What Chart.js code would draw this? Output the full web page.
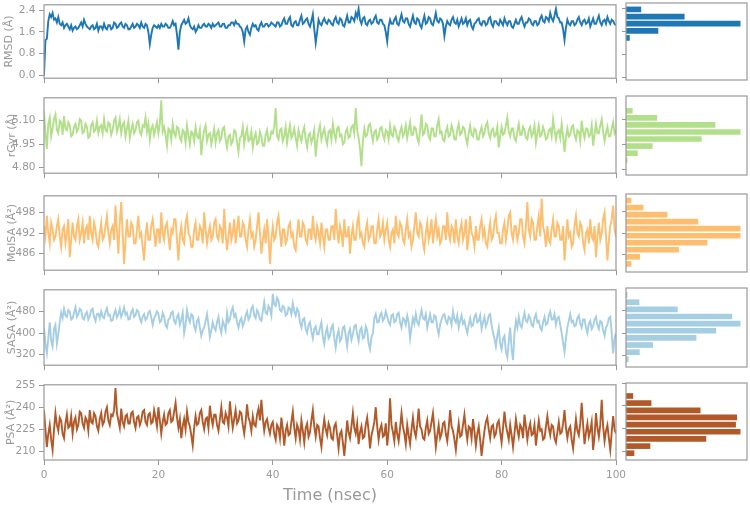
<!DOCTYPE html>
<html>
<head>
<meta charset="utf-8">
<script src="https://cdn.jsdelivr.net/npm/chart.js@4.4.1/dist/chart.umd.min.js"></script>
<style>
  html, body { margin: 0; padding: 0; background: #fff; }
  #page { position: relative; width: 750px; height: 506px; overflow: hidden; }
  #page canvas { position: absolute; }
</style>
</head>
<body>
<div id="page"></div>
<script>
// one frame every 0.25 nsec, 0..100 nsec
const timeStep = 0.25;

const rmsd = [
  0.0, 1.3, 1.35, 2.0, 2.25, 2.15, 2.3, 2.05, 2.1, 1.95, 2.15, 1.9, 1.85, 1.95, 1.75, 1.85, 1.9, 1.8, 1.7, 1.85, 1.65, 1.75, 1.8, 1.7, 1.75, 1.85, 1.95, 1.8, 2.05, 1.9, 1.8, 1.75, 1.7, 1.8, 1.85, 1.7, 1.75, 1.9, 1.65, 1.8,
  1.8, 1.7, 1.9, 1.75, 1.7, 1.85, 1.85, 1.7, 1.75, 1.95, 1.9, 1.75, 1.8, 1.9, 1.95, 1.8, 1.75, 1.9, 1.85, 1.7, 1.7, 1.8, 1.9, 1.75, 1.8, 1.9, 1.85, 1.75, 1.95, 1.8, 1.75, 1.9, 1.85, 1.6, 1.15, 1.5, 1.75, 1.85, 1.8, 1.75,
  1.85, 1.75, 1.9, 1.8, 1.8, 1.9, 1.85, 1.75, 1.75, 1.85, 2.0, 1.85, 1.9, 1.5, 0.95, 1.6, 1.85, 1.95, 2.05, 1.9, 1.95, 2.1, 1.85, 1.75, 1.7, 1.8, 1.6, 1.7, 1.85, 1.75, 1.75, 1.85, 1.9, 1.8, 1.8, 1.9, 1.85, 1.75, 1.9, 1.8,
  1.85, 1.9, 1.95, 1.8, 1.8, 1.9, 1.9, 1.75, 1.75, 1.85, 1.85, 1.95, 1.95, 1.85, 2.0, 1.9, 1.9, 1.8, 1.75, 1.6, 1.25, 1.7, 1.8, 1.6, 1.5, 1.75, 1.9, 1.8, 1.85, 1.7, 1.65, 1.85, 1.95, 1.8, 1.8, 1.9, 1.9, 1.8, 1.85, 1.95,
  1.9, 1.85, 1.8, 1.95, 1.95, 1.8, 1.85, 2.0, 2.1, 1.9, 1.9, 2.05, 2.15, 1.85, 1.8, 1.95, 2.0, 1.85, 1.85, 2.05, 2.2, 1.9, 1.95, 2.05, 2.1, 1.9, 1.8, 2.0, 2.25, 1.7, 1.2, 1.6, 2.05, 1.9, 1.85, 2.0, 2.1, 1.95, 1.9, 2.05,
  2.0, 1.9, 1.85, 2.05, 2.15, 1.95, 1.9, 2.1, 2.05, 1.85, 1.8, 2.0, 2.2, 1.95, 1.95, 2.15, 2.1, 2.0, 2.3, 2.15, 2.45, 2.05, 1.9, 2.1, 2.15, 1.9, 1.85, 2.0, 2.05, 1.9, 1.95, 2.1, 2.2, 1.95, 1.9, 2.05, 2.05, 1.9, 1.85, 1.6,
  1.25, 1.8, 2.05, 1.9, 1.9, 2.05, 2.15, 1.9, 1.85, 2.05, 2.25, 2.0, 1.95, 2.1, 2.1, 1.9, 1.8, 2.0, 2.2, 1.95, 1.9, 2.1, 2.05, 1.85, 1.75, 2.0, 2.2, 1.9, 1.95, 2.15, 2.1, 1.9, 1.85, 2.05, 2.3, 2.0, 1.95, 2.1, 2.05, 1.9,
  1.45, 1.8, 2.0, 1.9, 1.85, 2.05, 2.15, 1.95, 1.9, 2.05, 1.8, 1.95, 2.1, 1.9, 1.95, 2.1, 1.85, 2.0, 2.05, 1.8, 1.7, 1.9, 1.95, 2.05, 2.1, 1.9, 1.85, 2.0, 2.0, 1.85, 1.9, 2.1, 2.15, 1.9, 1.8, 2.0, 2.0, 1.9, 1.85, 2.05,
  1.95, 1.85, 2.1, 1.95, 1.85, 2.0, 2.0, 1.8, 1.75, 1.9, 2.05, 1.9, 1.9, 2.05, 2.15, 1.95, 1.8, 1.95, 1.95, 2.1, 2.05, 1.9, 1.85, 2.0, 2.0, 1.85, 1.9, 2.1, 2.2, 2.0, 1.95, 2.15, 2.1, 2.0, 2.3, 2.1, 2.0, 2.2, 2.45, 2.15,
  2.1, 1.95, 1.95, 1.7, 1.3, 1.75, 2.05, 1.9, 1.85, 2.0, 2.0, 1.85, 1.9, 2.05, 2.15, 1.95, 1.85, 2.0, 2.05, 1.9, 1.95, 2.1, 1.8, 1.95, 2.1, 1.9, 1.9, 2.05, 2.2, 1.95, 1.85, 2.0, 2.05, 1.9, 2.15, 2.0, 1.9, 2.05, 2.0, 1.9,
  1.85
];

const rgyr = [
  5.16, 5.02, 4.92, 5.08, 5.12, 5.00, 5.05, 5.11, 5.14, 5.04, 5.02, 5.10, 5.09, 5.01, 5.13, 5.05, 5.04, 5.09, 5.07, 5.00, 5.01, 5.06, 5.08, 5.03, 5.05, 5.11, 5.10, 5.02, 5.03, 5.08, 5.06, 4.99, 5.00, 5.07, 5.09, 5.03, 5.04, 5.10, 5.02, 5.06,
  5.07, 5.02, 5.11, 5.04, 5.03, 5.09, 5.08, 5.01, 5.04, 5.10, 5.12, 5.03, 5.06, 5.11, 5.02, 5.07, 5.09, 5.00, 5.05, 5.10, 4.99, 5.04, 5.08, 5.02, 5.04, 5.09, 5.10, 5.03, 5.01, 5.07, 5.06, 5.12, 5.03, 5.08, 4.98, 5.05, 5.07, 5.01, 5.05, 5.09,
  5.02, 5.08, 5.23, 5.03, 5.06, 5.01, 4.94, 5.05, 5.04, 4.98, 5.08, 5.02, 5.00, 5.06, 5.05, 4.99, 4.97, 5.04, 5.03, 4.96, 5.07, 5.01, 4.95, 5.03, 5.02, 4.97, 5.06, 5.00, 4.99, 5.04, 4.88, 4.98, 5.04, 5.07, 4.97, 5.01, 5.02, 4.95, 5.00, 5.05,
  4.96, 5.02, 5.04, 4.97, 4.99, 5.05, 5.06, 4.98, 4.93, 5.00, 5.01, 4.95, 4.97, 5.04, 5.03, 4.96, 4.90, 4.99, 5.00, 5.06, 4.95, 5.01, 5.05, 4.97, 4.98, 5.03, 4.93, 4.99, 5.02, 4.95, 4.96, 5.03, 5.00, 4.94, 4.94, 5.01, 5.04, 4.97, 4.98, 5.03,
  5.02, 5.06, 5.18, 5.00, 4.98, 5.04, 5.05, 4.97, 5.00, 5.06, 4.96, 5.02, 5.07, 4.99, 5.01, 5.05, 4.99, 4.94, 5.04, 5.00, 4.97, 5.03, 5.06, 4.98, 4.93, 5.01, 5.02, 4.96, 4.99, 5.04, 4.87, 4.97, 5.03, 5.07, 4.98, 5.02, 5.05, 4.99, 4.95, 5.03,
  5.04, 4.98, 5.08, 5.02, 4.98, 5.05, 5.06, 5.00, 5.01, 4.95, 4.96, 5.03, 5.05, 4.99, 5.00, 5.06, 5.07, 5.02, 5.18, 5.04, 4.99, 4.92, 4.81, 4.97, 5.05, 5.00, 5.01, 5.07, 5.08, 5.02, 4.97, 5.03, 5.04, 4.98, 5.00, 5.05, 5.06, 5.01, 4.98, 5.04,
  5.03, 4.98, 5.07, 5.01, 5.00, 5.06, 5.04, 4.99, 4.97, 5.03, 5.06, 5.00, 5.02, 5.07, 4.99, 5.04, 5.09, 5.01, 5.01, 5.06, 5.05, 4.99, 4.96, 5.04, 5.14, 5.01, 5.02, 5.08, 5.07, 5.00, 4.98, 5.05, 5.05, 5.00, 5.00, 5.07, 5.11, 5.02, 5.03, 4.98,
  4.97, 5.03, 5.06, 5.00, 5.01, 5.07, 5.04, 4.98, 4.98, 5.04, 5.08, 5.01, 5.02, 5.06, 5.05, 4.99, 4.95, 5.02, 5.07, 5.01, 5.00, 5.05, 5.04, 4.98, 4.98, 5.03, 5.06, 5.00, 5.02, 5.07, 5.09, 5.02, 4.99, 5.04, 5.05, 5.00, 5.01, 5.06, 4.93, 5.00,
  5.06, 5.01, 5.02, 5.07, 5.12, 5.03, 5.00, 5.05, 5.05, 4.99, 4.97, 5.03, 5.08, 5.01, 5.01, 5.06, 5.04, 4.99, 4.98, 5.04, 5.06, 5.00, 5.02, 5.07, 4.96, 5.02, 5.07, 5.00, 5.01, 5.06, 5.03, 4.98, 4.99, 5.04, 5.05, 5.00, 5.11, 5.04, 4.98, 5.03,
  5.04, 4.99, 5.08, 5.00, 4.90, 4.99, 5.05, 5.00, 5.01, 5.06, 5.07, 5.01, 4.98, 5.04, 5.03, 4.97, 5.10, 5.03, 4.99, 5.05, 5.05, 5.00, 5.01, 5.07, 4.94, 5.01, 5.08, 5.02, 5.02, 5.07, 5.11, 5.03, 4.97, 5.02, 5.06, 5.00, 5.00, 5.05, 5.09, 5.02,
  5.04
];

const molsa = [
  494, 491, 497, 492, 489, 495, 493, 490, 491, 494, 496, 491, 488, 493, 494, 489, 492, 496, 485, 490, 495, 491, 490, 494, 496, 490, 492, 495, 489, 493, 494, 490, 497, 492, 490, 495, 493, 489, 488, 492,
  495, 490, 491, 494, 497, 492, 489, 493, 494, 490, 500, 493, 486, 495, 501, 492, 483, 490, 496, 491, 491, 495, 494, 489, 489, 493, 497, 491, 492, 488, 484, 491, 495, 490, 490, 494, 496, 492, 488, 493,
  493, 489, 498, 492, 490, 494, 495, 491, 487, 493, 492, 496, 496, 490, 484, 491, 494, 490, 489, 495, 497, 492, 491, 488, 488, 493, 495, 490, 490, 494, 493, 489, 498, 493, 489, 492, 494, 490, 491, 495,
  496, 491, 490, 494, 493, 489, 499, 492, 487, 491, 495, 490, 492, 496, 489, 493, 497, 491, 491, 495, 494, 490, 488, 493, 496, 491, 492, 488, 490, 494, 498, 492, 486, 490, 493, 489, 496, 491, 483, 490,
  494, 490, 491, 495, 497, 492, 488, 493, 493, 489, 490, 494, 495, 491, 492, 488, 487, 492, 496, 491, 491, 495, 494, 490, 489, 493, 493, 490, 497, 492, 490, 494, 492, 489, 495, 491, 488, 493, 493, 490,
  490, 494, 494, 490, 499, 493, 489, 494, 492, 488, 496, 491, 491, 494, 486, 491, 494, 490, 490, 495, 497, 491, 492, 489, 488, 493, 495, 490, 491, 494, 494, 489, 489, 493, 496, 491, 492, 495, 490, 493,
  495, 490, 488, 492, 493, 489, 497, 492, 491, 495, 494, 490, 489, 493, 496, 491, 492, 488, 490, 494, 498, 492, 491, 495, 494, 489, 487, 492, 495, 490, 492, 496, 489, 493, 496, 491, 493, 489, 490, 494,
  494, 490, 498, 492, 490, 494, 493, 489, 496, 491, 489, 493, 495, 490, 492, 496, 487, 491, 497, 492, 491, 488, 494, 490, 490, 494, 496, 491, 493, 489, 488, 492, 495, 490, 491, 495, 497, 492, 492, 489,
  489, 493, 495, 490, 493, 497, 498, 492, 490, 494, 494, 490, 492, 496, 496, 491, 489, 494, 501, 493, 491, 496, 495, 490, 490, 494, 497, 491, 502, 494, 492, 488, 494, 490, 489, 493, 496, 491, 491, 495,
  494, 490, 490, 494, 484, 490, 496, 491, 492, 488, 489, 494, 497, 492, 491, 495, 494, 489, 487, 492, 493, 489, 496, 491, 490, 494, 485, 491, 495, 490, 492, 496, 498, 491, 484, 490, 494, 496, 500, 493,
  491
];

const sasa = [
  420, 360, 325, 380, 440, 370, 350, 415, 430, 360, 395, 440, 475, 455, 490, 465, 460, 485, 480, 450, 455, 475, 495, 460, 470, 490, 485, 455, 450, 470, 478, 450, 462, 485, 490, 460, 445, 470, 472, 455,
  480, 460, 455, 478, 492, 465, 468, 445, 448, 470, 485, 458, 470, 490, 460, 475, 495, 468, 475, 450, 452, 478, 488, 460, 466, 485, 480, 455, 440, 462, 470, 448, 455, 475, 482, 458, 430, 455, 465, 480,
  470, 440, 445, 475, 460, 430, 420, 450, 455, 475, 480, 445, 435, 460, 470, 430, 450, 475, 400, 430, 485, 455, 440, 470, 465, 425, 410, 445, 455, 420, 390, 410, 420, 445, 470, 430, 385, 410, 440, 420,
  410, 440, 460, 420, 400, 445, 430, 410, 475, 440, 450, 480, 495, 460, 470, 440, 420, 445, 455, 425, 440, 465, 480, 450, 460, 490, 500, 465, 455, 485, 475, 450, 445, 480, 515, 475, 470, 500, 490, 465,
  545, 505, 500, 530, 520, 485, 480, 500, 495, 465, 470, 495, 490, 470, 510, 480, 465, 490, 480, 440, 420, 450, 455, 415, 400, 430, 440, 405, 380, 415, 425, 395, 395, 420, 440, 385, 360, 400, 420, 380,
  390, 420, 430, 380, 345, 390, 410, 370, 380, 420, 425, 390, 350, 400, 415, 375, 395, 425, 430, 395, 370, 410, 420, 380, 385, 425, 410, 360, 340, 385, 400, 455, 470, 440, 440, 465, 475, 445, 455, 480,
  460, 440, 430, 465, 470, 440, 445, 470, 475, 440, 420, 455, 450, 430, 465, 440, 380, 420, 455, 435, 470, 440, 430, 460, 485, 455, 450, 470, 420, 445, 470, 440, 440, 465, 460, 420, 395, 430, 450, 465,
  470, 445, 435, 460, 455, 430, 480, 450, 440, 465, 420, 445, 465, 435, 445, 420, 400, 430, 455, 425, 430, 460, 470, 440, 445, 465, 415, 440, 460, 425, 440, 465, 470, 430, 400, 380, 350, 390, 420, 360,
  340, 380, 390, 330, 310, 370, 420, 340, 300, 400, 445, 420, 460, 430, 420, 450, 475, 445, 440, 465, 455, 430, 425, 455, 470, 440, 445, 420, 410, 440, 460, 430, 435, 465, 480, 450, 450, 470, 430, 455,
  460, 430, 400, 365, 330, 380, 420, 445, 470, 440, 445, 425, 430, 455, 465, 435, 420, 450, 450, 420, 400, 435, 445, 415, 425, 450, 460, 430, 415, 445, 440, 410, 390, 420, 430, 455, 460, 400, 325, 380,
  400
];

const psa = [
  238, 225, 213, 222, 228, 218, 211, 225, 236, 228, 224, 233, 231, 222, 219, 229, 235, 226, 227, 234, 222, 230, 233, 225, 228, 237, 236, 229, 226, 233, 231, 224, 238, 230, 229, 236, 234, 227, 224, 232,
  236, 228, 230, 237, 240, 231, 228, 235, 234, 238, 253, 236, 231, 226, 239, 230, 227, 234, 235, 229, 229, 236, 237, 230, 226, 233, 234, 228, 231, 237, 238, 230, 228, 235, 236, 229, 230, 238, 233, 227,
  240, 231, 222, 230, 235, 228, 229, 236, 238, 230, 231, 237, 243, 233, 226, 232, 219, 227, 232, 225, 237, 230, 227, 221, 214, 226, 234, 228, 229, 236, 238, 230, 225, 232, 233, 226, 241, 233, 228, 235,
  235, 228, 224, 232, 240, 230, 229, 236, 233, 227, 244, 234, 226, 232, 238, 229, 231, 237, 236, 228, 222, 230, 242, 233, 230, 224, 234, 228, 227, 235, 239, 231, 245, 233, 224, 230, 232, 226, 222, 228,
  230, 222, 218, 228, 226, 219, 233, 225, 214, 224, 228, 221, 222, 230, 237, 226, 219, 228, 225, 218, 231, 224, 216, 226, 229, 220, 223, 231, 238, 227, 220, 228, 227, 219, 213, 224, 232, 225, 221, 229,
  226, 219, 218, 227, 229, 221, 212, 222, 224, 216, 207, 218, 231, 223, 219, 227, 236, 226, 222, 229, 215, 223, 227, 219, 220, 228, 233, 224, 212, 221, 225, 230, 240, 227, 218, 225, 228, 220, 221, 229,
  214, 224, 246, 228, 223, 217, 230, 222, 217, 226, 236, 227, 222, 215, 228, 221, 215, 225, 233, 224, 220, 228, 239, 227, 225, 219, 218, 226, 231, 222, 224, 230, 236, 225, 213, 221, 228, 219, 222, 229,
  230, 222, 217, 226, 238, 227, 224, 218, 211, 221, 229, 220, 221, 228, 235, 225, 218, 227, 226, 219, 232, 224, 214, 222, 227, 218, 207, 216, 224, 230, 233, 225, 219, 227, 228, 220, 222, 229, 231, 223,
  216, 226, 237, 228, 223, 218, 228, 221, 213, 222, 232, 225, 220, 228, 226, 219, 235, 227, 218, 225, 229, 221, 222, 228, 214, 223, 231, 224, 225, 218, 219, 227, 234, 226, 221, 228, 227, 219, 216, 223,
  230, 222, 223, 229, 238, 226, 219, 225, 227, 218, 212, 222, 232, 224, 221, 229, 243, 228, 215, 223, 229, 220, 224, 230, 211, 220, 236, 226, 220, 228, 245, 227, 217, 224, 228, 219, 211, 223, 234, 225,
  222
];

// histograms (bin centre, count relative to tallest bin)
const rmsdBins = [2.375, 2.125, 1.875, 1.625, 1.375];
const rmsdCounts = [13, 51, 100, 28, 3];
const rgyrBins = [5.156, 5.113, 5.070, 5.027, 4.984, 4.941, 4.898, 4.855];
const rgyrCounts = [5.5, 27, 78, 100, 66, 23, 10, 1];
const molsaBins = [501.0, 499.05, 497.1, 495.15, 493.2, 491.25, 489.3, 487.35, 485.4, 483.45];
const molsaCounts = [4.4, 15, 36, 63, 100, 100, 71, 46, 12, 4.4];
const sasaBins = [535, 509.8, 484.6, 459.4, 434.2, 409, 383.8, 358.6, 333.4, 308.2];
const sasaCounts = [1, 11.4, 45, 92.7, 100, 78.7, 61.4, 23.4, 11.7, 2];
const psaBins = [246.6, 241.9, 237.1, 232.4, 227.6, 222.9, 218.2, 213.4, 208.7];
const psaCounts = [6, 22, 65, 97, 96, 100, 70, 21, 7];

// tick labels
const timeTicks = [0, 20, 40, 60, 80, 100];
const rmsdTicks = [0.0, 0.8, 1.6, 2.4];
const rgyrTicks = [4.80, 4.95, 5.10];
const molsaTicks = [486, 492, 498];
const sasaTicks = [320, 400, 480];
const psaTicks = [210, 225, 240, 255];

const times = rmsd.map((_, i) => i * timeStep);

const GRAY = "#999";
const FONT = "DejaVu Sans";

const panels = [
  { title: "RMSD (Å)", values: rmsd, color: "#1f78b4", ticks: rmsdTicks, dec: 1, min: -0.1, max: 2.6, top: 3, bottom: 80, titlePad: 3, bins: rmsdBins, counts: rmsdCounts },
  { title: "rGyr (Å)", values: rgyr, color: "#b2df8a", ticks: rgyrTicks, dec: 2, min: 4.765, max: 5.246, top: 96, bottom: 175, titlePad: 5.5, bins: rgyrBins, counts: rgyrCounts },
  { title: "MolSA (Å²)", values: molsa, color: "#fdbf6f", ticks: molsaTicks, dec: 0, min: 481.2, max: 502.8, top: 194, bottom: 272, titlePad: 5.5, bins: molsaBins, counts: molsaCounts },
  { title: "SASA (Å²)", values: sasa, color: "#a6cee3", ticks: sasaTicks, dec: 0, min: 281, max: 560, top: 288, bottom: 367, titlePad: 5.5, bins: sasaBins, counts: sasaCounts },
  { title: "PSA (Å²)", values: psa, color: "#b15928", ticks: psaTicks, dec: 0, min: 204.2, max: 255.2, top: 383, bottom: 460, titlePad: 4.5, bins: psaBins, counts: psaCounts },
];

// full box around the plot area, like matplotlib spines
const frame = {
  id: "frame",
  afterDraw(chart) {
    const a = chart.chartArea;
    const ctx = chart.ctx;
    ctx.save();
    ctx.strokeStyle = GRAY;
    ctx.lineWidth = 1.2;
    ctx.strokeRect(a.left, a.top, a.right - a.left, a.bottom - a.top);
    ctx.restore();
  },
};

const page = document.getElementById("page");

function addCanvas(left, top, width, height) {
  const c = document.createElement("canvas");
  c.width = width;
  c.height = height;
  c.style.left = left + "px";
  c.style.top = top + "px";
  c.style.width = width + "px";
  c.style.height = height + "px";
  page.appendChild(c);
  return c;
}

const fixedTicks = (list) => (scale) => {
  scale.ticks = list.map(v => ({ value: v }));
};

panels.forEach((p, idx) => {
  const last = idx === panels.length - 1;
  const xAxisHeight = last ? 46 : 8;
  const h = p.bottom - p.top;

  // time series
  const lineCanvas = addCanvas(0, p.top - 8, 630, h + 8 + xAxisHeight);
  new Chart(lineCanvas, {
    type: "line",
    data: {
      labels: times,
      datasets: [{
        data: p.values,
        borderColor: p.color,
        borderWidth: 1.9,
        pointRadius: 0,
        tension: 0,
      }],
    },
    options: {
      responsive: false,
      animation: false,
      events: [],
      layout: { padding: { top: 8, right: 14, left: 0, bottom: 0 } },
      plugins: { legend: { display: false }, tooltip: { enabled: false } },
      scales: {
        x: {
          type: "linear",
          min: 0,
          max: 100,
          afterBuildTicks: fixedTicks(timeTicks),
          afterFit: (s) => { s.height = xAxisHeight; s.paddingLeft = 0; s.paddingRight = 0; },
          grid: { drawOnChartArea: false, tickLength: 5, color: GRAY },
          border: { display: false },
          ticks: { display: last, font: { family: FONT, size: 10.5 }, color: GRAY, padding: 4, maxRotation: 0 },
          title: { display: last, text: "Time (nsec)", font: { family: FONT, size: 16 }, color: GRAY, padding: { top: 0, bottom: 1 } },
        },
        y: {
          min: p.min,
          max: p.max,
          afterBuildTicks: fixedTicks(p.ticks),
          afterFit: (s) => { s.width = 44; },
          grid: { drawOnChartArea: false, tickLength: 5, color: GRAY },
          border: { display: false },
          ticks: { font: { family: FONT, size: 10.5 }, color: GRAY, padding: 3.5, callback: v => v.toFixed(p.dec) },
          title: { display: true, text: p.title, font: { family: FONT, size: 11 }, color: GRAY, padding: { top: p.titlePad, bottom: 0 } },
        },
      },
    },
    plugins: [frame],
  });

  // histogram on the right, sharing the y range
  const histCanvas = addCanvas(620, p.top - 8, 130, h + 10);
  new Chart(histCanvas, {
    type: "bar",
    data: {
      datasets: [{
        data: p.bins.map((b, i) => ({ x: p.counts[i], y: b })),
        backgroundColor: p.color,
        barThickness: 5,
      }],
    },
    options: {
      indexAxis: "y",
      responsive: false,
      animation: false,
      events: [],
      layout: { padding: { top: 8, right: 3, left: 0, bottom: 2 } },
      plugins: { legend: { display: false }, tooltip: { enabled: false } },
      scales: {
        x: { type: "linear", min: 0, max: 106, display: false },
        y: {
          type: "linear",
          min: p.min,
          max: p.max,
          offset: false,
          afterBuildTicks: fixedTicks(p.ticks),
          afterFit: (s) => { s.width = 6; },
          grid: { drawOnChartArea: false, tickLength: 4, color: GRAY, offset: false },
          border: { display: false },
          ticks: { display: false },
        },
      },
    },
    plugins: [frame],
  });
});
</script>
</body>
</html>
